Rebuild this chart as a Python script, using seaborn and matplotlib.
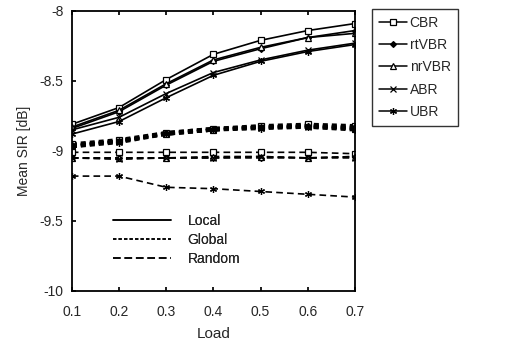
import matplotlib
matplotlib.use("Agg")
import matplotlib.pyplot as plt
from matplotlib.lines import Line2D
import pandas as pd
import seaborn as sns

sns.set_theme(style="ticks")
plt.rcParams["font.family"] = ["Liberation Sans", "DejaVu Sans"]

load = [0.1, 0.2, 0.3, 0.4, 0.5, 0.6, 0.7]
classes = ["CBR", "rtVBR", "nrVBR", "ABR", "UBR"]

local_cbr = [-8.81, -8.69, -8.49, -8.31, -8.21, -8.14, -8.09]
local_rtvbr = [-8.84, -8.72, -8.53, -8.36, -8.27, -8.19, -8.14]
local_nrvbr = [-8.83, -8.71, -8.52, -8.35, -8.26, -8.19, -8.16]
local_abr = [-8.85, -8.76, -8.59, -8.44, -8.35, -8.28, -8.23]
local_ubr = [-8.88, -8.79, -8.62, -8.46, -8.36, -8.29, -8.24]

global_cbr = [-8.95, -8.92, -8.87, -8.84, -8.82, -8.81, -8.82]
global_rtvbr = [-8.96, -8.93, -8.87, -8.84, -8.83, -8.82, -8.83]
global_nrvbr = [-8.96, -8.93, -8.88, -8.85, -8.83, -8.82, -8.84]
global_abr = [-8.97, -8.93, -8.88, -8.85, -8.83, -8.83, -8.84]
global_ubr = [-8.97, -8.94, -8.88, -8.85, -8.84, -8.83, -8.85]

random_cbr = [-9.01, -9.01, -9.01, -9.01, -9.01, -9.01, -9.02]
random_rtvbr = [-9.05, -9.05, -9.05, -9.05, -9.05, -9.05, -9.04]
random_nrvbr = [-9.05, -9.05, -9.05, -9.04, -9.04, -9.05, -9.04]
random_abr = [-9.05, -9.06, -9.05, -9.05, -9.04, -9.05, -9.05]
random_ubr = [-9.18, -9.18, -9.26, -9.27, -9.29, -9.31, -9.33]

series = {
    "Local": [local_cbr, local_rtvbr, local_nrvbr, local_abr, local_ubr],
    "Global": [global_cbr, global_rtvbr, global_nrvbr, global_abr, global_ubr],
    "Random": [random_cbr, random_rtvbr, random_nrvbr, random_abr, random_ubr],
}

rows = []
for scheme, vals in series.items():
    for cls, ys in zip(classes, vals):
        for x, y in zip(load, ys):
            rows.append({"load": x, "sir": y, "scheme": scheme, "cls": cls})
df = pd.DataFrame(rows)

dash_styles = {"Local": "-", "Global": (0, (1.5, 1.2)), "Random": (0, (4, 2.5))}
legend_dashes = {"Local": "-", "Global": (0, (2.2, 1.4)), "Random": (0, (5, 2.5))}
marker_styles = {
    "CBR": dict(marker="s", mfc="white"),
    "rtVBR": dict(marker="D", mfc="black", markersize=3),
    "nrVBR": dict(marker="^", mfc="white"),
    "ABR": dict(marker="x", mfc="black"),
    "UBR": dict(marker=(6, 2, 0), mfc="black"),
}

fig, ax = plt.subplots(figsize=(5.13, 3.53), dpi=100)
fig.subplots_adjust(left=0.140, right=0.692, bottom=0.176, top=0.969)

for (scheme, cls), sub in df.groupby(["scheme", "cls"], sort=False):
    style = dict(markersize=5, mec="black", mew=0.9)
    style.update(marker_styles[cls])
    lw = 2.4 if scheme == "Global" else 1.2
    sns.lineplot(data=sub, x="load", y="sir", ax=ax, color="black",
                 linewidth=lw, linestyle=dash_styles[scheme], legend=False, **style)

ax.set_xlim(0.1, 0.7)
ax.set_ylim(-10, -8)
ax.set_xticks(load)
ax.set_xticklabels([f"{v:g}" for v in load])
ax.set_yticks([-10, -9.5, -9, -8.5, -8])
ax.set_yticklabels(["-10", "-9.5", "-9", "-8.5", "-8"])
ax.tick_params(direction="in", length=3, labelsize=10, top=True, color="black")
ax.tick_params(axis="x", pad=10)
ax.tick_params(axis="y", pad=6)
for s in ax.spines.values():
    s.set_visible(True)
    s.set_color("black")
    s.set_linewidth(1.3)
ax.set_xlabel("Load", fontsize=11, labelpad=6)
ax.set_ylabel("Mean SIR [dB]", fontsize=10, labelpad=6)

scheme_handles = [Line2D([], [], color="black", lw=1.1, linestyle=legend_dashes[s]) for s in series]
leg1 = ax.legend(scheme_handles, list(series), loc="lower left", bbox_to_anchor=(0.1, 0.045),
                 frameon=False, fontsize=10, handlelength=4.2, handletextpad=1.2, labelspacing=0.35)
ax.add_artist(leg1)

class_handles = []
for cls in classes:
    st = dict(markersize=5, mec="black", mew=0.9)
    st.update(marker_styles[cls])
    class_handles.append(Line2D([], [], color="black", lw=1.1, **st))
fig.legend(class_handles, classes, loc="upper left", bbox_to_anchor=(0.712, 0.995),
           frameon=True, edgecolor="black", fancybox=False, fontsize=10,
           handlelength=2.0, handletextpad=0.2, labelspacing=0.6, borderpad=0.5)

fig.savefig("out.png", dpi=100)
